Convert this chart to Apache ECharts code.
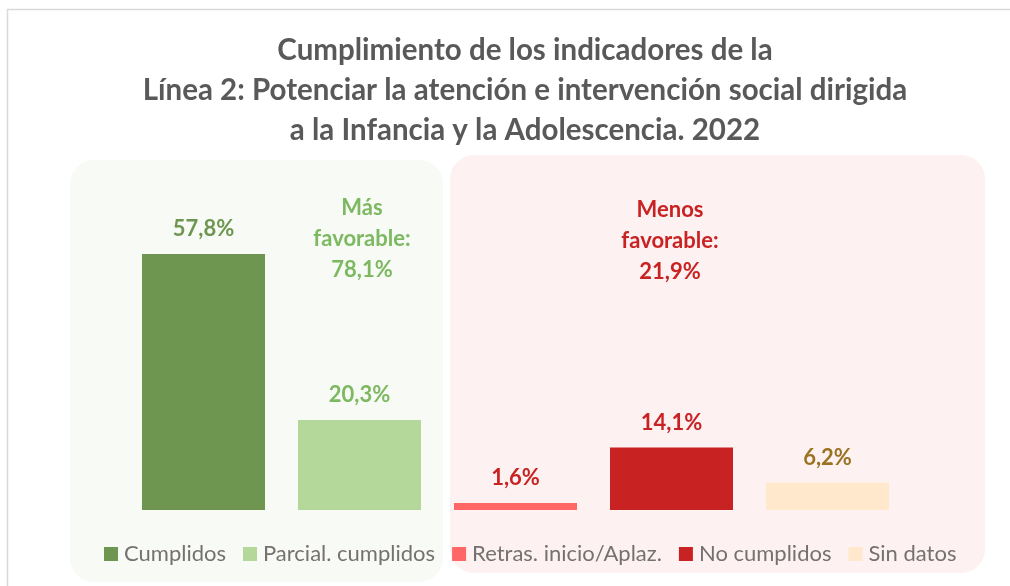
<!DOCTYPE html>
<html>
<head>
<meta charset="utf-8">
<script src="https://cdn.jsdelivr.net/npm/echarts@6/dist/echarts.min.js"></script>
<style>
  html, body { margin: 0; padding: 0; background: #fff; }
  #main { width: 1010px; height: 586px; }
</style>
</head>
<body>
<div id="main"></div>
<script>
// categorias y valores (%)
var categorias = ['Cumplidos', 'Parcial. cumplidos', 'Retras. inicio/Aplaz.', 'No cumplidos', 'Sin datos'];
var valores = [57.8, 20.3, 1.6, 14.1, 6.2];
var coloresBarra = ['#6e9650', '#b4d89a', '#ff6666', '#c92222', '#ffe8cc'];
var coloresEtiqueta = ['#6e9650', '#7cb960', '#c92222', '#c92222', '#9a7222'];
var masFavorable = ['Más', 'favorable:', '78,1%'];
var menosFavorable = ['Menos', 'favorable:', '21,9%'];

var fuente = 'Lato';

var chartDom = document.getElementById('main');
var myChart = echarts.init(chartDom);

// una serie por categoria para que salga en la leyenda
var series = categorias.map(function (nombre, i) {
  return {
    name: nombre,
    type: 'bar',
    barWidth: 123,
    barGap: '-100%',
    itemStyle: { color: coloresBarra[i] },
    label: {
      show: true,
      position: 'top',
      distance: 14,
      fontFamily: fuente,
      fontSize: 22,
      fontWeight: 'bold',
      color: coloresEtiqueta[i],
      formatter: function (p) { return p.value.toFixed(1).replace('.', ',') + '%'; }
    },
    data: categorias.map(function (c, j) { return j === i ? valores[i] : '-'; })
  };
});

var option = {
  animation: false,
  title: {
    text: 'Cumplimiento de los indicadores de la\nLínea 2: Potenciar la atención e intervención social dirigida\na la Infancia y la Adolescencia. 2022',
    left: 520,
    top: 25,
    textAlign: 'center',
    textStyle: {
      fontFamily: fuente,
      fontSize: 29.5,
      fontWeight: 'bold',
      color: '#595959',
      lineHeight: 40
    }
  },
  graphic: [
    { type: 'rect', z: -10, silent: true,
      shape: { x: 7.5, y: 9.5, width: 1100, height: 700 },
      style: { fill: null, stroke: '#d9d9d9', lineWidth: 1.5 } },
    { type: 'rect', z: -10, silent: true,
      shape: { x: 70, y: 160, width: 373, height: 422, r: 24 },
      style: { fill: '#f8faf6' } },
    { type: 'rect', z: -10, silent: true,
      shape: { x: 450, y: 155, width: 535, height: 418, r: 24 },
      style: { fill: '#fdf1f1' } },
    { type: 'text', z: 100, silent: true,
      style: { text: masFavorable.join('\n'), x: 362, y: 192, align: 'center', verticalAlign: 'top',
        fontFamily: fuente, fontSize: 22, fontWeight: 'bold', lineHeight: 31, fill: '#7cb960' } },
    { type: 'text', z: 100, silent: true,
      style: { text: menosFavorable.join('\n'), x: 670, y: 194, align: 'center', verticalAlign: 'top',
        fontFamily: fuente, fontSize: 22, fontWeight: 'bold', lineHeight: 31, fill: '#c92222' } }
  ],
  legend: {
    data: categorias,
    left: 99,
    top: 538,
    itemWidth: 14,
    itemHeight: 14,
    itemGap: 17,
    icon: 'rect',
    textStyle: { fontFamily: fuente, fontSize: 22, color: '#767171', padding: [0, 0, 0, 1] }
  },
  grid: {
    left: 125.5,
    right: 1010 - 905.5,
    top: 510 - 60 * 4.43,
    bottom: 76
  },
  xAxis: {
    type: 'category',
    data: categorias,
    axisLine: { show: false },
    axisTick: { show: false },
    axisLabel: { show: false }
  },
  yAxis: {
    type: 'value',
    min: 0,
    max: 60,
    show: false,
    splitLine: { show: false }
  },
  series: series
};

myChart.setOption(option);
</script>
</body>
</html>
